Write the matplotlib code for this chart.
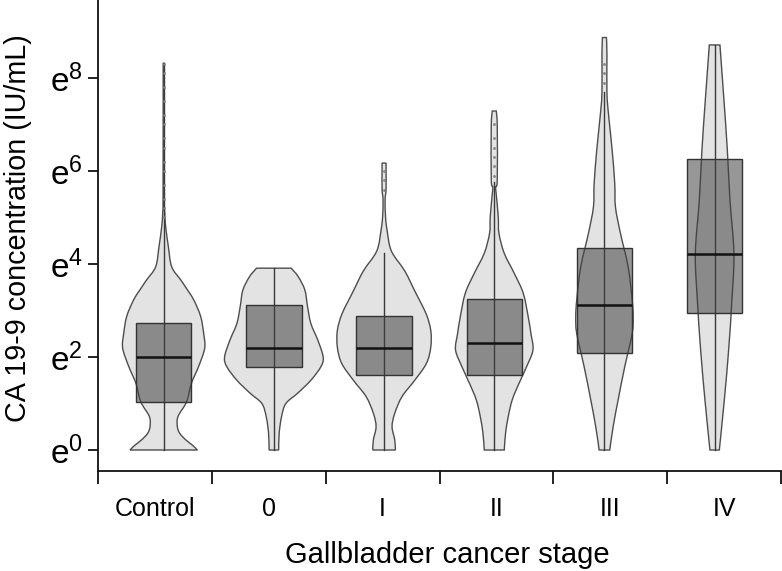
import numpy as np
import matplotlib
matplotlib.use("Agg")
import matplotlib.pyplot as plt
from matplotlib.path import Path
from matplotlib.patches import PathPatch, Rectangle

plt.rcParams['font.family'] = ['Liberation Sans', 'DejaVu Sans']
plt.rcParams['mathtext.fontset'] = 'custom'
plt.rcParams['mathtext.rm'] = 'Liberation Sans'

# categories (x axis)
stages = ['Control', '0', 'I', 'II', 'III', 'IV']

# box statistics, in natural-log units of CA 19-9
q1 = [1.03, 1.78, 1.61, 1.61, 2.08, 2.94]
median = [2.00, 2.19, 2.19, 2.31, 3.12, 4.22]
q3 = [2.74, 3.12, 2.88, 3.25, 4.35, 6.26]
whisk_lo = [0, 0, 0, 0, 0, 0]
whisk_hi = [8.32, 3.91, 4.23, 5.77, 7.69, 8.71]

# outliers drawn as tiny dots
outliers = [
    [5.0, 5.2, 5.4, 5.7, 6.0, 6.2, 6.5, 6.7, 7.0, 7.2, 7.5, 7.8, 8.1, 8.3],
    [],
    [5.6, 5.8, 6.0],
    [5.9, 6.1, 6.3, 6.5, 6.7, 7.0],
    [7.9, 8.1, 8.3],
    [],
]

# violin density profiles: level (log units) and half-width (px)
ctrl_v = [0, 0.1, 0.22, 0.36, 0.5, 0.72, 1.04, 1.43, 1.8, 2.19, 2.5, 2.87, 3.23, 3.5, 3.66, 3.94, 4.37, 4.8, 5.1, 5.5, 8.32]
ctrl_w = [33.7, 29, 22, 16, 13.7, 14.3, 23, 27.7, 35, 41, 40, 37, 30, 22, 17, 8, 4.7, 2, 1, 0.6, 0.5]
s0_v = [0, 0.36, 0.72, 1.0, 1.22, 1.5, 1.79, 2.0, 2.36, 2.72, 3.08, 3.44, 3.73, 3.91]
s0_w = [4.8, 5.3, 7.7, 12, 23.7, 37, 47, 49.3, 44, 37, 33.7, 31, 24.3, 17.3]
s1_v = [0, 0.22, 0.5, 0.79, 1.15, 1.5, 1.86, 2.21, 2.57, 2.93, 3.42, 3.85, 4.28, 4.73, 5.0, 5.38, 5.6, 6.0, 6.17]
s1_w = [11.3, 10.7, 8, 10.7, 18, 30.7, 42.3, 46.7, 46.7, 42, 30.7, 20.7, 7.3, 3, 1.5, 1, 2, 2, 2]
s2_v = [0, 0.36, 0.72, 1.08, 1.43, 1.79, 2.15, 2.5, 2.86, 3.37, 3.8, 4.23, 4.66, 5.02, 5.5, 5.66, 5.81, 6.97, 7.29]
s2_w = [10, 11.3, 14, 18, 24.7, 32.3, 38.7, 36.7, 34, 29, 20, 10, 4.7, 4, 2, 1.5, 3, 3, 2]
s3_v = [0, 0.5, 1.08, 1.79, 2.5, 2.86, 3.23, 3.94, 4.66, 5.23, 5.73, 6.45, 7.17, 7.67, 8.5, 8.87]
s3_w = [5.3, 8.7, 13.7, 20.3, 27.7, 28.7, 27.7, 23.7, 16, 11, 10.3, 7.7, 4.3, 2.5, 2.5, 2]
s4_v = [0, 1.08, 2.15, 3.23, 4.23, 5.38, 6.45, 7.53, 8.71]
s4_w = [4.7, 9.7, 14, 17.3, 19.3, 15.3, 12.7, 9.3, 5.3]

prof_v = [ctrl_v, s0_v, s1_v, s2_v, s3_v, s4_v]
prof_w = [ctrl_w, s0_w, s1_w, s2_w, s3_w, s4_w]

ytick_vals = [0, 2, 4, 6, 8]

# layout
W, H = 782, 571
px_per_unit = (781 - 98) / 6.0
fig = plt.figure(figsize=(W / 100, H / 100), dpi=100)
ax = fig.add_axes([98 / W, 1 - 470.7 / H, (781 - 98) / W, 470.7 / H])
ax.set_xlim(-0.5, 5.5)
ax.set_ylim(-0.445, 9.677)

violin_face = '#e3e3e3'
violin_edge = '#4d4d4d'


def smooth_side(pts):
    # catmull-rom through the points, as bezier segments
    pts = np.asarray(pts, float)
    ext = np.vstack([pts[0], pts, pts[-1]])
    verts, codes = [], []
    for i in range(1, len(ext) - 2):
        p0, p1, p2, p3 = ext[i - 1], ext[i], ext[i + 1], ext[i + 2]
        c1 = p1 + (p2 - p0) / 6.0
        c2 = p2 - (p3 - p1) / 6.0
        verts += [c1, c2, p2]
        codes += [Path.CURVE4] * 3
    return verts, codes


for i, name in enumerate(stages):
    xc = 0.077 + 0.968 * i
    v = np.array(prof_v[i])
    w = np.array(prof_w[i]) / px_per_unit
    left = np.column_stack([xc - w, v])
    right = np.column_stack([xc + w, v])[::-1]
    verts = [left[0]]
    codes = [Path.MOVETO]
    lv, lc = smooth_side(left)
    verts += lv
    codes += lc
    verts.append(right[0])
    codes.append(Path.LINETO)
    rv, rc = smooth_side(right)
    verts += rv
    codes += rc
    verts.append(left[0])
    codes.append(Path.CLOSEPOLY)
    ax.add_patch(PathPatch(Path(verts, codes), facecolor=violin_face,
                           edgecolor=violin_edge, lw=1.0, zorder=2))

    # whisker line and outlier dots
    ax.plot([xc, xc], [whisk_lo[i], whisk_hi[i]], color='#3a3a3a', lw=1.0, zorder=3)
    if outliers[i]:
        ax.plot([xc] * len(outliers[i]), outliers[i], 'o', ms=1.6,
                color='#8a8a8a', mec='#6a6a6a', mew=0.3, zorder=4)

    # box
    bw = 27.7 / px_per_unit
    ax.add_patch(Rectangle((xc - bw, q1[i]), 2 * bw, q3[i] - q1[i],
                           facecolor=(0.25, 0.25, 0.25, 0.54),
                           edgecolor='#333333', lw=1.0, zorder=5))
    ax.plot([xc - bw, xc + bw], [median[i], median[i]], color='#111111',
            lw=1.8, zorder=6, solid_capstyle='butt')

# axes styling
for s in ['top', 'right']:
    ax.spines[s].set_visible(False)
for s in ['left', 'bottom']:
    ax.spines[s].set_linewidth(1.3)
    ax.spines[s].set_color('#111111')

ax.set_yticks(ytick_vals)
ax.set_yticklabels([r'$\mathregular{e^{%d}}$' % t for t in ytick_vals], fontsize=24)
ax.tick_params(axis='y', length=7, width=1.3, pad=4, color='#111111')

ax.set_xticks(np.arange(-0.5, 6.0, 1.0))
ax.set_xticklabels([])
ax.tick_params(axis='x', which='major', length=9, width=1.3, color='#111111')
ax.set_xticks(np.arange(len(stages)), minor=True)
ax.set_xticklabels(stages, minor=True, fontsize=18)
ax.tick_params(axis='x', which='minor', length=0, pad=19)

fig.text(447 / W, 1 - 563 / H, 'Gallbladder cancer stage', fontsize=21,
         ha='center', va='baseline')
fig.text(18.5 / W, 1 - 228 / H, 'CA 19-9 concentration (IU/mL)', fontsize=20.7,
         rotation=90, ha='center', va='center')

fig.savefig('out.png', dpi=100)
